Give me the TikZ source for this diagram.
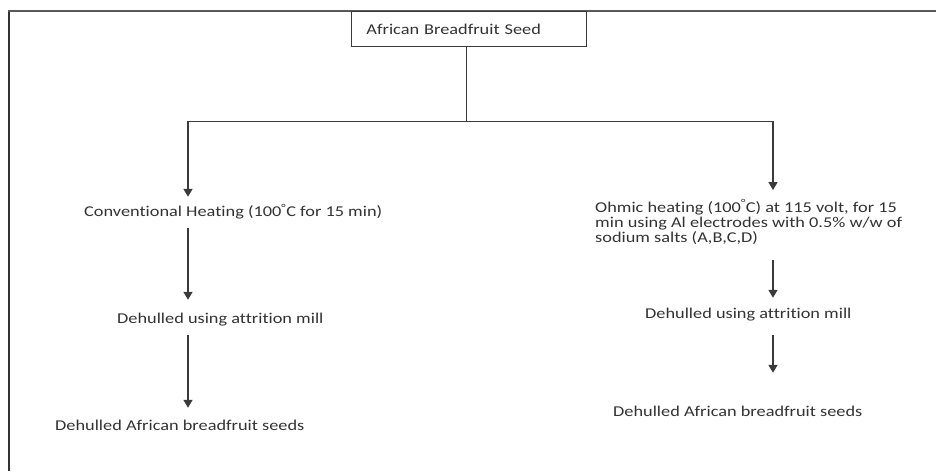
\documentclass[tikz,border=0pt]{standalone}
\usepackage{fontspec}
\setmainfont{Carlito}[FakeStretch=1.22, Ligatures={NoCommon}]
\usetikzlibrary{arrows.meta}
\definecolor{txt}{HTML}{333333}
\definecolor{ln}{HTML}{3A3A3A}
\begin{document}
\begin{tikzpicture}[x=1pt,y=-1pt,
  every node/.style={font=\fontsize{15}{15}\selectfont, text=txt},
  lbl/.style={inner sep=0pt, anchor=west, text height=11pt, text depth=4pt},
  conn/.style={draw=ln, line width=0.9pt},
  arr/.style={draw=ln, line width=1.6pt, -{Triangle[length=8pt,width=9pt]}}]
\useasboundingbox (0,0) rectangle (936,471);
\fill[white] (0,0) rectangle (936,471);
% frame
\draw[draw=black!80, line width=1.3pt] (9,471) -- (9,11);
\draw[draw=black!65, line width=2pt] (8.4,11) -- (936,11);
% nodes
\node[draw=ln, line width=0.9pt, inner xsep=15pt, inner ysep=0pt, text width=205pt, align=left,
      minimum height=35pt, anchor=north west] (top) at (351,11) {African Breadfruit Seed};
\coordinate (split) at (466,121);
\coordinate (lsplit) at (188,121);
\coordinate (rsplit) at (773,121);
\node[lbl] (conv) at (84,213) {Conventional Heating (100\textsuperscript{°}C for 15 min)};
\node[lbl] (d1) at (117,320) {Dehulled using attrition mill};
\node[lbl] (s1) at (55,427) {Dehulled African breadfruit seeds};
\node[inner sep=0pt, anchor=west, align=left] (ohm) at (595,222)
  {Ohmic heating (100\textsuperscript{°}C) at 115 volt, for 15\\min using Al electrodes with 0.5\% w/w of\\sodium salts (A,B,C,D)};
\node[lbl] (d2) at (645,315) {Dehulled using attrition mill};
\node[lbl] (s2) at (613,413) {Dehulled African breadfruit seeds};
% connectors
\draw[conn] (top.south -| split) -- (split);
\draw[conn] (lsplit) -- (rsplit);
\draw[arr, shorten >=8.5pt] (lsplit) -- (lsplit |- conv.north);
\draw[arr, shorten <=7.5pt, shorten >=12.5pt] (lsplit |- conv.south) -- (lsplit |- d1.north);
\draw[arr, shorten <=7.5pt, shorten >=11.5pt] (lsplit |- d1.south) -- (lsplit |- s1.north);
\draw[arr, shorten >=9.5pt] (rsplit) -- (rsplit |- ohm.north);
\draw[arr, shorten <=15.5pt, shorten >=9.5pt] (rsplit |- ohm.south) -- (rsplit |- d2.north);
\draw[arr, shorten <=12.5pt, shorten >=32.5pt] (rsplit |- d2.south) -- (rsplit |- s2.north);
\end{tikzpicture}
\end{document}
